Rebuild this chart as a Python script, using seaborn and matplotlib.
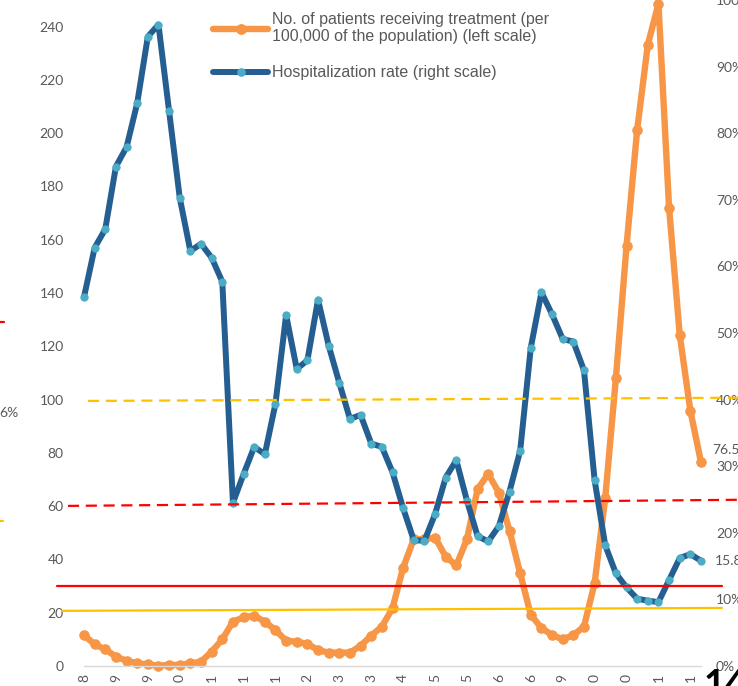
import numpy as np
import pandas as pd
import matplotlib
matplotlib.use("Agg")
import matplotlib.pyplot as plt
import matplotlib.transforms as mtransforms
from matplotlib.lines import Line2D
from matplotlib.ticker import FixedLocator, FuncFormatter
import seaborn as sns

W, H = 738, 686

# Patients receiving treatment per 100,000 of the population (left scale)
patients = [11.6, 8.1, 6.3, 3.5, 2.0, 1.0, 0.6, 0.1, 0.4, 0.4,
            1.0, 1.6, 5.4, 10.0, 16.6, 18.3, 18.9, 16.6, 13.5, 9.5,
            9.1, 8.3, 6.0, 5.0, 5.0, 5.0, 7.6, 11.4, 14.8, 21.7,
            36.9, 47.6, 47.6, 48.2, 41.1, 37.8, 47.6, 66.4, 72.1, 65.1,
            50.7, 34.8, 19.2, 14.3, 11.6, 10.0, 11.6, 14.8, 31.1, 63.2,
            108.1, 157.7, 201.3, 233.2, 248.6, 172.0, 124.3, 95.8, 76.5]

# Hospitalization rate in percent (right scale)
hosp_rate = [55.4, 62.8, 65.6, 75.0, 77.9, 84.5, 94.5, 96.3, 83.3, 70.3,
             62.3, 63.4, 61.3, 57.7, 24.5, 28.8, 32.9, 31.8, 39.4, 52.7,
             44.6, 45.9, 55.0, 48.1, 42.5, 37.1, 37.7, 33.4, 32.9, 29.1,
             23.7, 18.9, 18.8, 22.8, 28.3, 30.9, 24.8, 19.5, 18.7, 21.0,
             26.2, 32.3, 47.8, 56.1, 52.8, 49.1, 48.7, 44.4, 27.9, 18.1,
             13.9, 11.8, 10.1, 9.8, 9.6, 12.9, 16.2, 16.8, 15.8]

tick_labels = ["8", "9", "9", "0", "1", "1", "1", "2", "3", "3",
               "4", "5", "5", "6", "6", "9", "0", "0", "1", "1"]
left_ticks = list(range(0, 241, 20))
right_ticks = list(range(0, 101, 10))

# Threshold lines: (start value, end value) on the left scale
yellow_dash = (99.5, 100.7)
red_dash = (60.1, 62.4)
red_solid = (30.0, 30.0)
yellow_solid = (20.7, 21.8)

ORANGE = "#F79646"
BLUE = "#255E91"
BLUE_MARK = "#4BACC6"
GREY = "#595959"
YELLOW = "#FFC000"
RED = "#FF0000"

sns.set_theme(style="white")
plt.rcParams["font.family"] = ["Lato", "DejaVu Sans"]

df = pd.DataFrame({
    "period": np.arange(len(patients)),
    "patients": patients,
    "hosp": hosp_rate,
})

fig = plt.figure(figsize=(W / 100, H / 100), dpi=100)
ax = fig.add_axes([84 / W, 20 / H, 617 / W, 666 / H])
ax2 = ax.twinx()

sns.lineplot(data=df, x="period", y="patients", ax=ax, color=ORANGE,
             linewidth=4.6, marker="o", markersize=6.8,
             markerfacecolor=ORANGE, markeredgecolor=ORANGE,
             legend=False, clip_on=False)
sns.lineplot(data=df, x="period", y="hosp", ax=ax2, color=BLUE,
             linewidth=4.3, marker="o", markersize=5.2,
             markerfacecolor=BLUE_MARK, markeredgecolor=BLUE_MARK,
             legend=False, clip_on=False)

ax.set_xlim(0, len(patients) - 1)
ax.set_ylim(0, 250)
ax2.set_ylim(0, 100)

ax.xaxis.set_major_locator(FixedLocator(list(range(0, len(patients), 3))))
ax.set_xticklabels(tick_labels, rotation=90)
ax.yaxis.set_major_locator(FixedLocator(left_ticks))
ax2.yaxis.set_major_locator(FixedLocator(right_ticks))
ax2.yaxis.set_major_formatter(FuncFormatter(lambda v, p: f"{int(v)}%"))

for a in (ax, ax2):
    a.set_xlabel("")
    a.set_ylabel("")
    for s in ("left", "right", "top", "bottom"):
        a.spines[s].set_visible(False)
ax.spines["bottom"].set_visible(True)
ax.spines["bottom"].set_color("#D9D9D9")
ax.spines["bottom"].set_linewidth(1.0)

ax.tick_params(axis="x", length=0, pad=6.0, labelsize=10, labelcolor=GREY)
ax.tick_params(axis="y", length=0, pad=14.5, labelsize=10, labelcolor=GREY)
ax2.tick_params(axis="y", length=0, pad=10.8, labelsize=10, labelcolor=GREY)
ax.grid(False)
ax2.grid(False)

# Value labels for the latest period
ax.annotate(f"{patients[-1]}", xy=(len(patients) - 1, patients[-1]),
            xytext=(8, 9), textcoords="offset points", ha="left", va="center",
            fontsize=10, color=GREY, annotation_clip=False)
ax2.annotate(f"{hosp_rate[-1]}%", xy=(len(hosp_rate) - 1, hosp_rate[-1]),
             xytext=(10, 0), textcoords="offset points", ha="left", va="center",
             fontsize=10, color=GREY, annotation_clip=False)

# Threshold lines spanning the plot in figure x, left-scale y
blend = mtransforms.blended_transform_factory(fig.transFigure, ax.transData)
for (y0, y1), x0, x1, col, ls in [
    (yellow_dash, 88, 738, YELLOW, (0, (5, 3))),
    (red_dash, 68, 738, RED, (0, (5, 3))),
    (red_solid, 57, 722, RED, "-"),
    (yellow_solid, 62, 722, YELLOW, "-"),
]:
    fig.add_artist(Line2D([x0 / W, x1 / W], [y0, y1], transform=blend,
                          color=col, linewidth=1.6, linestyle=ls, zorder=5))

# Legend
handles = [
    Line2D([], [], color=ORANGE, linewidth=4.6, marker="o", markersize=6.8,
           markerfacecolor=ORANGE, markeredgecolor=ORANGE),
    Line2D([], [], color=BLUE, linewidth=4.3, marker="o", markersize=5.2,
           markerfacecolor=BLUE_MARK, markeredgecolor=BLUE_MARK),
]
labels = ["No. of patients receiving treatment (per\n100,000 of the population) (left scale)",
          "Hospitalization rate (right scale)"]
leg = ax2.legend(handles, labels, loc="upper left",
                 bbox_to_anchor=(213 / W, 1 - 12 / H), bbox_transform=fig.transFigure,
                 frameon=False, borderpad=0, borderaxespad=0,
                 handlelength=3.45, handletextpad=0.25, labelspacing=1.3,
                 prop={"family": ["Liberation Sans", "DejaVu Sans"], "size": 11.5})
for t in leg.get_texts():
    t.set_color(GREY)

# Fragments from the neighbouring panel at the edges
fig.text(-1 / W, 1 - 413 / H, "6%", ha="left", va="center", fontsize=10, color=GREY)
fig.add_artist(Line2D([0, 4 / W], [1 - 322 / H, 1 - 322 / H], transform=fig.transFigure,
                      color=RED, linewidth=1.6))
fig.add_artist(Line2D([0, 3 / W], [1 - 521 / H, 1 - 521 / H], transform=fig.transFigure,
                      color=YELLOW, linewidth=1.6))
fig.text(704 / W, 1 - 669 / H, "14", ha="left", va="top", fontsize=27,
         fontweight="bold", color="black")

fig.savefig("out.png", dpi=100, facecolor="white")
